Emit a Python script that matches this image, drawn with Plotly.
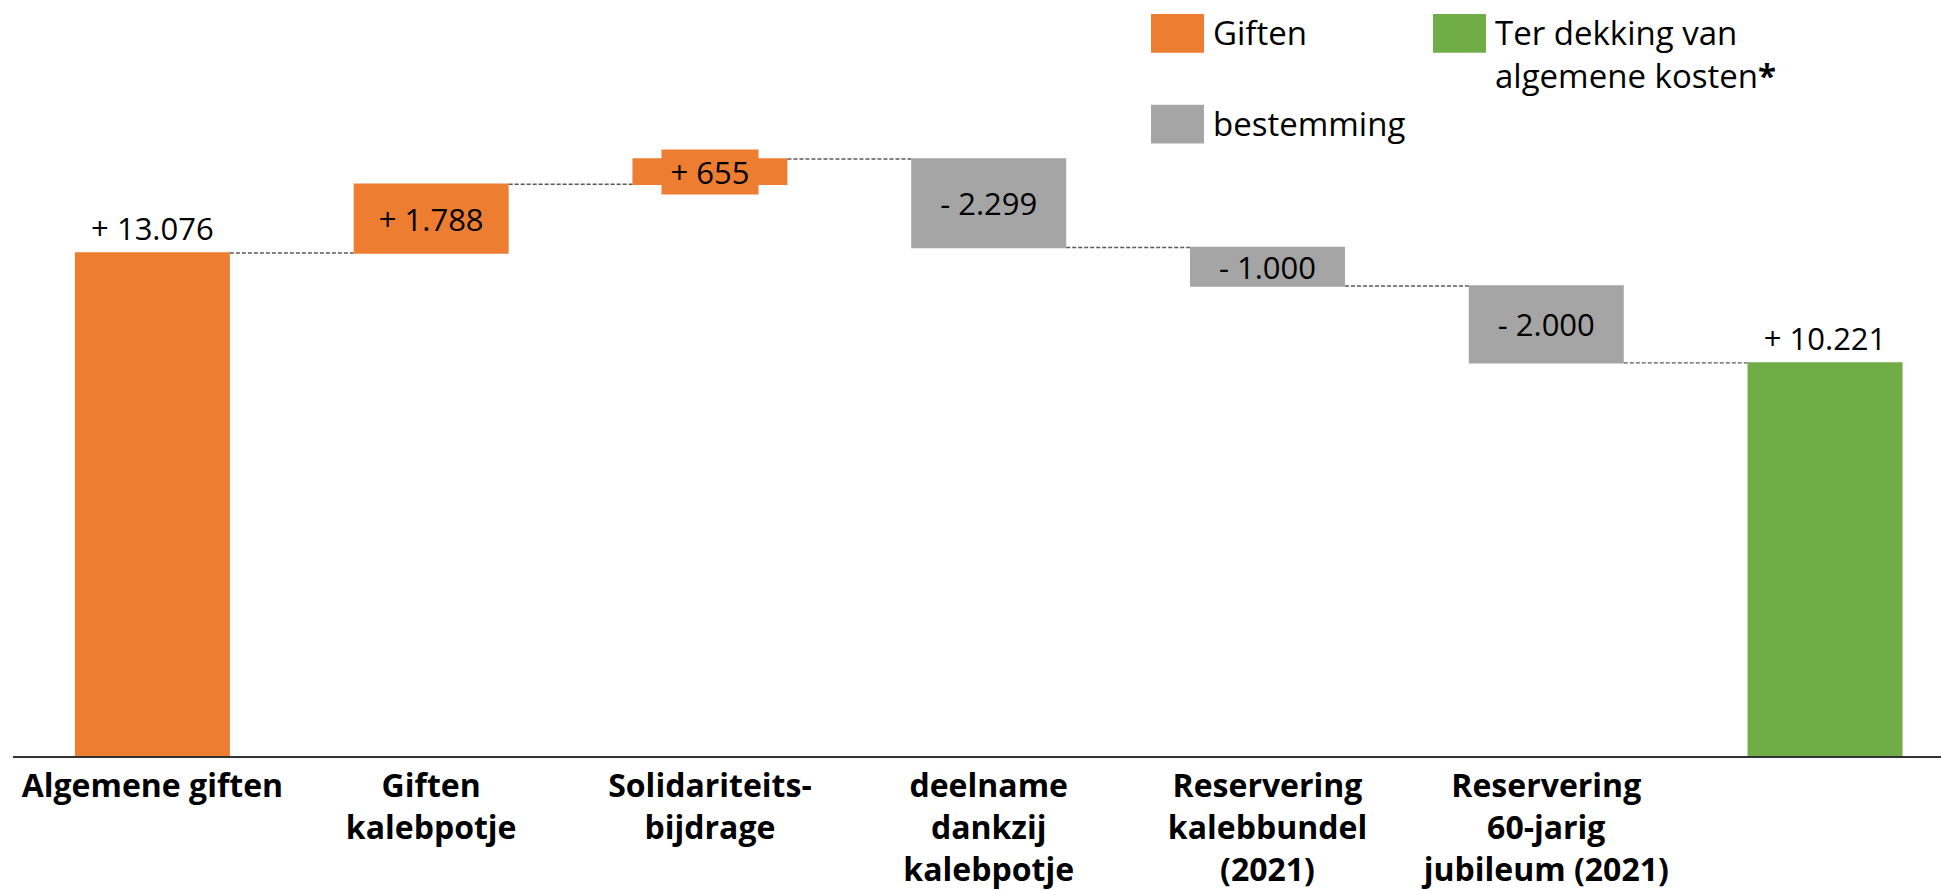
import plotly.graph_objects as go

# ---- data ----
categories = [
    "Algemene giften",
    "Giften<br>kalebpotje",
    "Solidariteits-<br>bijdrage",
    "deelname<br>dankzij<br>kalebpotje",
    "Reservering<br>kalebbundel<br>(2021)",
    "Reservering<br>60-jarig<br>jubileum (2021)",
    "",
]
values = [13076, 1788, 655, -2299, -1000, -2000, 10221]
measures = ["relative", "relative", "relative", "relative", "relative", "relative", "total"]
legend_labels = ["Giften", "bestemming", "Ter dekking van<br>algemene kosten<b>*</b>"]

ORANGE = "#ED7D31"
GRAY = "#A5A5A5"
GREEN = "#70AD47"
FONT = "Open Sans"

W, H = 1941, 890
L, R, T, B = 13, 0, 0, 132


def fmt(v):
    s = f"{abs(v):,}".replace(",", ".")
    return ("+ " if v > 0 else "- ") + s


labels = [fmt(v) for v in values]
positions = ["outside", "inside", "inside", "inside", "inside", "inside", "outside"]
small_idx = 2
texts = [t if i != small_idx else "" for i, t in enumerate(labels)]

xs = list(range(len(categories)))

fig = go.Figure()
fig.add_trace(go.Waterfall(
    x=xs,
    y=values,
    measure=measures,
    text=texts,
    textposition=positions,
    textfont=dict(family=FONT, size=31, color="black"),
    insidetextanchor="middle",
    constraintext="none",
    width=0.556,
    increasing=dict(marker=dict(color=ORANGE)),
    decreasing=dict(marker=dict(color=GRAY)),
    totals=dict(marker=dict(color=GREEN)),
    connector=dict(mode="between", line=dict(color="#5a5a5a", width=1.4, dash="4px,2px")),
    showlegend=False,
    cliponaxis=False,
    hoverinfo="skip",
))

# boxed label for the small bar, centered on that bar
cum = sum(values[:small_idx])
mid = cum + values[small_idx] / 2
annotations = [dict(
    x=small_idx, y=mid, xref="x", yref="y", text=labels[small_idx], showarrow=False,
    font=dict(family=FONT, size=31, color="black"), bgcolor=ORANGE, borderpad=2,
    width=92, height=40,
)]

# manual legend (pixel layout -> paper coords)
pw = W - L - R
ph = H - T - B


def px(x):
    return (x - L) / pw


def py(y):
    return (H - B - y) / ph


legend_items = [
    (ORANGE, 1151, 14, legend_labels[0]),
    (GRAY, 1151, 105, legend_labels[1]),
    (GREEN, 1433, 14, legend_labels[2]),
]
shapes = []
for color, x0, y0, lab in legend_items:
    shapes.append(dict(type="rect", xref="paper", yref="paper",
                       x0=px(x0), x1=px(x0 + 53), y0=py(y0), y1=py(y0 + 39),
                       fillcolor=color, line=dict(width=0)))
    nlines = lab.count("<br>") + 1
    annotations.append(dict(
        xref="paper", yref="paper", x=px(x0 + 60), y=py(y0 + 19 + (nlines - 1) * 21),
        xanchor="left", yanchor="middle",
        text=lab, showarrow=False, align="left",
        font=dict(family=FONT, size=33, color="black"),
    ))

fig.update_layout(
    width=W, height=H, autosize=False,
    margin=dict(l=L, r=R, t=T, b=B, pad=0),
    paper_bgcolor="white", plot_bgcolor="white",
    font=dict(family=FONT, color="black"),
    xaxis=dict(
        range=[-0.5, 6.416], tickvals=xs, ticktext=[f"<b>{c}</b>" if c else "" for c in categories],
        showgrid=False, zeroline=False, showline=True, linecolor="#333333", linewidth=2,
        ticks="", tickfont=dict(family=FONT, size=32, color="black"), ticklabelstandoff=1,
    ),
    yaxis=dict(range=[0, 19654], visible=False, showgrid=False, zeroline=False),
    shapes=shapes,
    annotations=annotations,
    uniformtext=dict(mode=False),
)

fig.write_html(
    "out.html",
    config={"displayModeBar": False},
    post_script="document.body.style.margin='0';document.body.style.padding='0';",
)
